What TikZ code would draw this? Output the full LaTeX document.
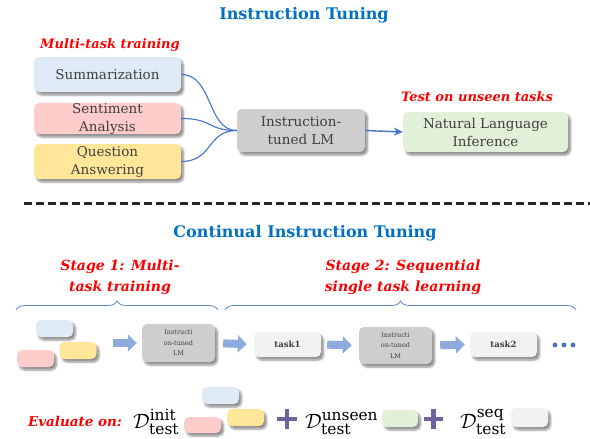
\documentclass[tikz,border=0pt]{standalone}
\usepackage{amsmath, amssymb}
\usepackage{fontspec}
\setmainfont{DejaVu Serif}
\usepackage{tikz}
\usetikzlibrary{arrows.meta, shadows.blur, decorations.pathreplacing}

\definecolor{titleblue}{RGB}{0,112,192}
\definecolor{textgray}{RGB}{64,62,62}
\definecolor{sumblue}{RGB}{222,234,246}
\definecolor{senpink}{RGB}{255,204,204}
\definecolor{qayellow}{RGB}{255,230,153}
\definecolor{lmgray}{RGB}{207,205,205}
\definecolor{nligreen}{RGB}{226,240,217}
\definecolor{tasklight}{RGB}{242,242,242}
\definecolor{lineblue}{RGB}{68,114,196}
\definecolor{fatblue}{RGB}{143,170,220}
\definecolor{pluspurple}{RGB}{111,96,160}

\tikzset{
  box/.style={rounded corners=5pt, align=center, text=textgray, inner sep=0pt,
    blur shadow={shadow xshift=2.5pt, shadow yshift=-3pt, shadow opacity=45, shadow blur steps=6}},
  bigtext/.style={font=\fontsize{13.5}{18}\selectfont},
  redlabel/.style={text=red, align=center, font=\bfseries\itshape\fontsize{13}{16}\selectfont},
  stagelabel/.style={text=red, align=center, font=\bfseries\itshape\fontsize{14}{21}\selectfont},
  titlelabel/.style={text=titleblue, font=\bfseries\fontsize{16}{18}\selectfont},
  curve/.style={lineblue, line width=1.1pt},
  fatarrow/.style={fatblue, line width=8pt, -{Triangle[width=17pt,length=9pt]}},
  mathnode/.style={inner sep=0pt, font=\fontsize{22}{26}\selectfont},
  plusline/.style={pluspurple, line width=4.5pt},
  bracket/.style={lineblue!85, line width=0.8pt, decorate, decoration={brace, amplitude=9pt}}
}

\begin{document}
\begin{tikzpicture}[x=1pt, y=-1pt]
\useasboundingbox (0,0) rectangle (590,439);

\node [titlelabel] (tit) at (304,15) {Instruction Tuning};
\node [redlabel] (mtt) at (110,45) {Multi-task training};
\node [redlabel] (tut) at (477,97) {Test on unseen tasks};

\node [box, bigtext, fill=sumblue, minimum width=147pt, minimum height=35pt] (summ) at (107.5,74.5) {Summarization};
\node [box, bigtext, fill=senpink, minimum width=147pt, minimum height=31pt] (senti) at (107.5,118.5) {Sentiment\\Analysis};
\node [box, bigtext, fill=qayellow, minimum width=147pt, minimum height=35pt] (qa) at (107.5,161.5) {Question\\Answering};
\node [box, bigtext, fill=lmgray, minimum width=128pt, minimum height=43pt] (itlm) at (301,130.5) {Instruction-\\tuned LM};
\node [box, bigtext, fill=nligreen, minimum width=165pt, minimum height=40pt] (nli) at (485.5,132) {Natural Language\\Inference};

\draw [curve] (summ.east) .. controls +(32,0) and +(-30,0) .. (itlm.west);
\draw [curve] (senti.east) .. controls +(32,0) and +(-30,0) .. (itlm.west);
\draw [curve] (qa.east) .. controls +(32,0) and +(-30,0) .. (itlm.west);
\draw [curve, line width=1.4pt, -{Stealth[length=9pt,width=8pt]}] (itlm.east) -- (nli.west);

\coordinate (dl) at (24,203);
\coordinate (dr) at (590,203);
\draw [line width=3pt, dash pattern=on 8pt off 4pt, black!85] (dl) -- (dr);

\node [titlelabel] (ctit) at (305,233) {Continual Instruction Tuning};
\node [stagelabel] (st1) at (120,277) {Stage 1: Multi-\\task training};
\node [stagelabel] (st2) at (403,277) {Stage 2: Sequential\\single task learning};

\coordinate (b1l) at (16,310);
\coordinate (b1r) at (218,310);
\coordinate (b2l) at (225,310);
\coordinate (b2r) at (576,310);
\draw [bracket] (b1l) -- (b1r);
\draw [bracket] (b2l) -- (b2r);

\node [box, fill=sumblue, minimum width=37pt, minimum height=17pt] (ssum) at (54.5,328.5) {};
\node [box, fill=qayellow, minimum width=37pt, minimum height=17pt] (sqa) at (78,350.5) {};
\node [box, fill=senpink, minimum width=37pt, minimum height=17pt] (ssen) at (35.5,358.5) {};
\node [box, fill=lmgray, minimum width=73pt, minimum height=38pt, font=\fontsize{6.5}{10.5}\selectfont] (lmone) at (178.5,343) {Instructi\\on-tuned\\LM};
\node [box, fill=tasklight, minimum width=67pt, minimum height=25pt, font=\bfseries\fontsize{8.5}{10}\selectfont] (taskone) at (287.5,344.5) {task1};
\node [box, fill=lmgray, minimum width=73pt, minimum height=37pt, font=\fontsize{6.5}{10.5}\selectfont] (lmtwo) at (395.5,345.5) {Instructi\\on-tuned\\LM};
\node [box, fill=tasklight, minimum width=67pt, minimum height=25pt, font=\bfseries\fontsize{8.5}{10}\selectfont] (tasktwo) at (503.5,344.5) {task2};

\draw [fatarrow, shorten <=16pt, shorten >=5pt] (sqa.east |- lmone.west) -- (lmone.west);
\draw [fatarrow, shorten <=8pt, shorten >=7pt] (lmone.east) -- (taskone.west);
\draw [fatarrow, shorten <=6pt, shorten >=7pt] (taskone.east) -- (lmtwo.west);
\draw [fatarrow, shorten <=8pt, shorten >=5pt] (lmtwo.east) -- (tasktwo.west);
\foreach \dx in {555,564,573}
  \fill [lineblue] (\dx,345) circle (2.4);

\node [redlabel, font=\bfseries\itshape\fontsize{13.5}{16}\selectfont] (evo) at (75,421) {Evaluate on:};
\node [mathnode, anchor=base west] (dinit) at (133,428) {$\mathcal{D}^{\text{init}}_{\text{test}}$};
\node [box, fill=sumblue, minimum width=37pt, minimum height=17pt] (esum) at (220.5,395.5) {};
\node [box, fill=senpink, minimum width=37pt, minimum height=16pt] (esen) at (202.5,425) {};
\node [box, fill=qayellow, minimum width=37pt, minimum height=17pt] (eqa) at (245.5,417.5) {};
\draw [plusline] (277,419) -- (297,419) (287,409) -- (287,429);
\node [mathnode, anchor=base west] (dunseen) at (305,428) {$\mathcal{D}^{\text{unseen}}_{\text{test}}$};
\node [box, fill=nligreen, minimum width=36pt, minimum height=17pt] (enli) at (400,418.5) {};
\draw [plusline] (424,419) -- (443,419) (433.5,409) -- (433.5,429);
\node [mathnode, anchor=base west] (dseq) at (460,428) {$\mathcal{D}^{\text{seq}}_{\text{test}}$};
\node [box, fill=tasklight, minimum width=37pt, minimum height=19pt] (etask) at (529.5,417.5) {};
\end{tikzpicture}
\end{document}
